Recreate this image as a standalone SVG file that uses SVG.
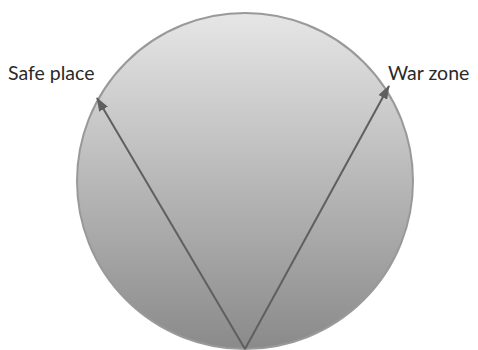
<svg xmlns="http://www.w3.org/2000/svg" width="478" height="350" viewBox="0 0 478 350">
<style>
.lbl{font-family:Lato,"Liberation Sans",sans-serif;font-size:19.5px;fill:#2a2a2a}
.arr{stroke:#5f5f5f;stroke-width:2;fill:none;marker-end:url(#ah)}
</style>
<defs>
<linearGradient id="g" x1="0" y1="0" x2="0" y2="1">
<stop offset="0" stop-color="#e6e6e6"/>
<stop offset="1" stop-color="#8a8a8a"/>
</linearGradient>
<marker id="ah" viewBox="0 0 14 10" refX="13" refY="5" markerWidth="14" markerHeight="10" orient="auto" markerUnits="userSpaceOnUse">
<path d="M0,0 L14,5 L0,10 z" fill="#5f5f5f"/>
</marker>
</defs>
<rect width="478" height="350" fill="#fff"/>
<g id="circle"><circle cx="245" cy="181" r="168" fill="url(#g)" stroke="#999" stroke-width="2"/></g>
<g id="safe"><text class="lbl" x="8" y="80">Safe place</text></g>
<g id="war"><text class="lbl" x="388" y="80">War zone</text></g>
<g id="connectors">
<line class="arr" x1="245" y1="349" x2="97" y2="98"/>
<line class="arr" x1="245" y1="349" x2="389" y2="86"/>
</g>
</svg>
